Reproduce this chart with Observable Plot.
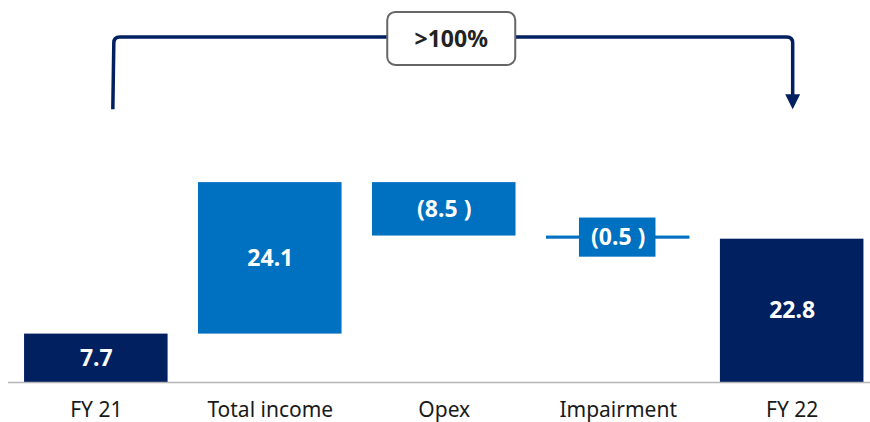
<!DOCTYPE html>
<html><head><meta charset="utf-8">
<script src="https://cdn.jsdelivr.net/npm/d3@7"></script>
<script src="https://cdn.jsdelivr.net/npm/@observablehq/plot@0.6"></script>
<style>body{margin:0;background:#fff;}</style>
</head><body><div id="chart"></div>
<script>
// ---- data ----
const categories = ["FY 21", "Total income", "Opex", "Impairment", "FY 22"];
const values = [7.7, 24.1, -8.5, -0.5, 22.8];
const kinds = ["total", "change", "change", "change", "total"];
const valueLabels = ["7.7", "24.1", "(8.5 )", "(0.5 )", "22.8"];
const bracketFrom = "FY 21";
const bracketTo = "FY 22";
const bracketLevels = [43.4, 54.9];
const bracketLabel = ">100%";

const navy = "#002060", blue = "#0070C0";
const font = "'Noto Sans', 'Open Sans', sans-serif";

let run = 0;
const rows = categories.map((c, i) => {
  let y1, y2;
  if (kinds[i] === "total") { y1 = 0; y2 = values[i]; }
  else { y1 = run; y2 = run + values[i]; }
  run = y2;
  return {category: c, y1, y2, mid: (y1 + y2) / 2, kind: kinds[i], label: valueLabels[i], small: Math.abs(values[i]) < 2};
});

function bracket(index, scales) {
  const x = scales.x, y = scales.y;
  const bw = x.bandwidth();
  const x0 = x(bracketFrom) + bw / 2 + 17;
  const x1 = x(bracketTo) + bw / 2 + 1;
  const yb = y(bracketLevels[0]), yt = y(bracketLevels[1]);
  const r = 6, ah = 15;
  const g = d3.create("svg:g");
  g.append("path")
    .attr("d", `M${x0},${yb}L${x0 + 1},${yt + r}Q${x0 + 1},${yt} ${x0 + 1 + r},${yt}L${x1 - r},${yt}Q${x1},${yt} ${x1},${yt + r}L${x1},${yb - ah + 1}`)
    .attr("fill", "none").attr("stroke", navy).attr("stroke-width", 3.5);
  g.append("path")
    .attr("d", `M${x1 - 7.5},${yb - ah}L${x1 + 7.5},${yb - ah}L${x1},${yb}Z`)
    .attr("fill", navy);
  const cx = (x0 + x1) / 2 - 1.5, w = 128, h = 53;
  g.append("rect").attr("x", cx - w / 2).attr("y", yt - h / 2 + 1.5).attr("width", w).attr("height", h)
    .attr("rx", 8).attr("fill", "#fff").attr("stroke", "#666").attr("stroke-width", 2);
  g.append("text").attr("x", cx).attr("y", yt + 2).attr("dy", "0.35em").attr("text-anchor", "middle")
    .attr("font-family", font).attr("font-size", 23).attr("font-weight", "bold").attr("fill", "#222")
    .text(bracketLabel);
  return g.node();
}

const chart = Plot.plot({
  width: 870,
  height: 422,
  marginLeft: 8,
  marginRight: 0,
  marginTop: 30,
  marginBottom: 40,
  style: {fontFamily: font, fontSize: "21px", color: "#1a1a1a", background: "#fff"},
  x: {domain: categories, paddingInner: 0.175, paddingOuter: 0.065, align: 0.71, round: false, tickSize: 0, tickPadding: 20, label: null},
  y: {domain: [0, 56], axis: null},
  marks: [
    Plot.barY(rows, {x: "category", y1: "y1", y2: "y2", fill: d => d.kind === "total" ? navy : blue}),
    Plot.barY(rows.filter(d => d.small), {x: "category", y1: "y1", y2: "y2", fill: blue, insetLeft: 33, insetRight: 34, insetTop: -18, insetBottom: -18}),
    Plot.ruleY([0], {stroke: "#b5b5b5", strokeWidth: 1.6}),
    Plot.text(rows, {x: "category", y: "mid", text: "label", fill: "#fff", fontSize: 23, fontWeight: "bold"}),
    bracket
  ]
});
document.getElementById("chart").appendChild(chart);
</script>
</body></html>
